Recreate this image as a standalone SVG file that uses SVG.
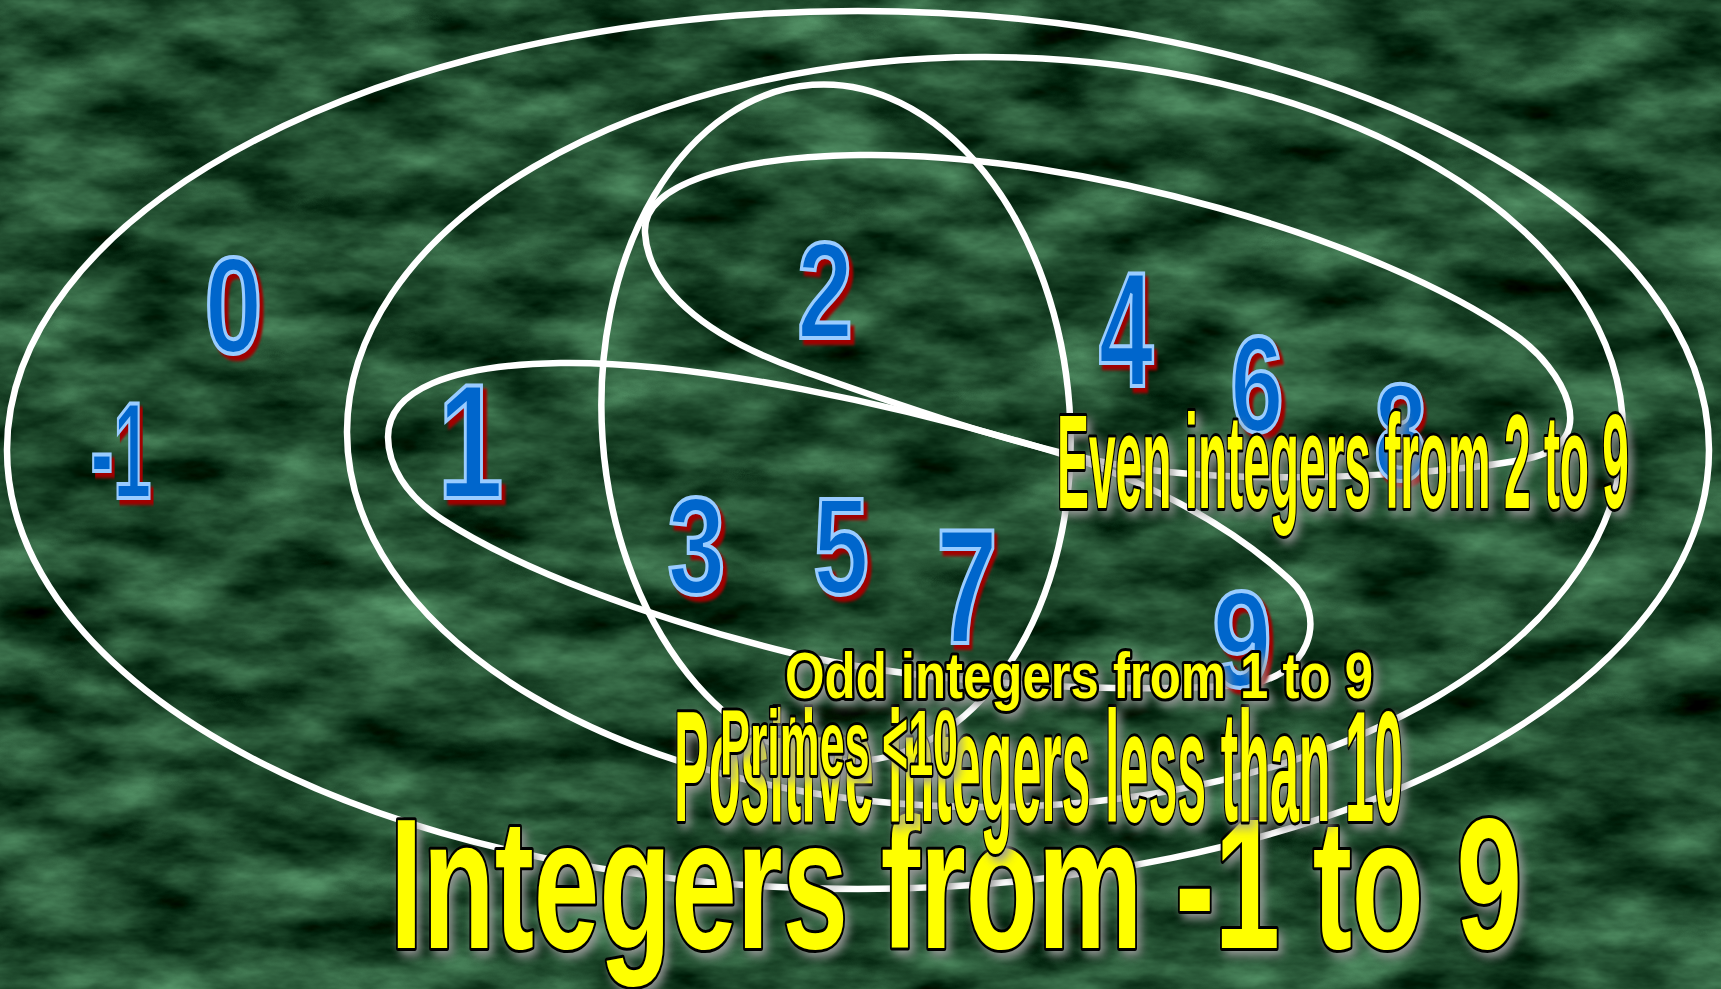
<svg xmlns="http://www.w3.org/2000/svg" width="1721" height="989" viewBox="0 0 1721 989">
<defs>
<filter id="tex" filterUnits="userSpaceOnUse" x="0" y="0" width="1721" height="989" color-interpolation-filters="sRGB">
<feTurbulence type="fractalNoise" baseFrequency="0.009 0.022" numOctaves="5" seed="7" result="n"/>
<feColorMatrix in="n" type="matrix" values="0.55 0 0 0 -0.15  0.75 0 0 0 -0.08  0.6 0 0 0 -0.12  0 0 0 0 1"/>
</filter>
<filter id="redsh" x="-20%" y="-20%" width="150%" height="150%" color-interpolation-filters="sRGB">
<feGaussianBlur in="SourceAlpha" stdDeviation="1.5"/>
<feOffset dx="5" dy="5" result="o"/>
<feFlood flood-color="#a00000"/>
<feComposite in2="o" operator="in" result="s"/>
<feMerge><feMergeNode in="s"/><feMergeNode in="SourceGraphic"/></feMerge>
</filter>
<filter id="glow" x="-10%" y="-30%" width="120%" height="160%" color-interpolation-filters="sRGB">
<feGaussianBlur in="SourceAlpha" stdDeviation="5"/>
<feOffset dx="4" dy="5" result="o"/>
<feFlood flood-color="#9a9a9a" flood-opacity="0.95"/>
<feComposite in2="o" operator="in" result="s"/>
<feMerge><feMergeNode in="s"/><feMergeNode in="SourceGraphic"/></feMerge>
</filter>
<style>
.set{fill:none;stroke:#ffffff;stroke-width:6.5}
.num{font-family:"Liberation Sans",Arial,sans-serif;font-weight:bold;fill:#0066cc;stroke:#99ccff;stroke-width:4;text-anchor:middle;filter:url(#redsh)}
.sm{font-size:137px}
.lg{font-size:164px}
.lbl{font-family:"Liberation Sans",Arial,sans-serif;font-weight:bold;fill:#ffff00;stroke:#000000;stroke-width:6;stroke-linejoin:round;paint-order:stroke fill;filter:url(#glow)}
</style>
</defs>
<rect id="background" x="0" y="0" width="1721" height="989" fill="#1f4d2d" filter="url(#tex)"/>
<g id="connectors">
<ellipse id="set-integers" class="set" cx="858" cy="450" rx="851" ry="439"/>
<ellipse id="set-positive" class="set" cx="985" cy="432" rx="638" ry="375"/>
<ellipse id="set-primes" class="set" cx="836" cy="423" rx="234" ry="339" transform="rotate(-4 836 423)"/>
<path id="set-even" class="set" d="M645,233 C642,185 730,157 860,155 C1080,152 1380,240 1515,335 C1565,370 1600,440 1534,457 C1480,471 1300,485 1168,472 C1050,460 900,405 800,370 C700,335 648,285 645,233 Z"/>
<path id="set-odd" class="set" d="M388,437 C388,390 450,365 560,363 C700,361 900,405 1055,452 C1150,482 1230,525 1290,580 C1330,617 1310,680 1240,685 C1100,695 900,680 787,652 C650,618 520,570 443,520 C405,495 388,465 388,437 Z"/>
</g>
<g id="numbers">
<g id="n-minus1"><text class="num sm" transform="translate(121,498) scale(0.5,1)">-1</text></g>
<g id="n0"><text class="num sm" transform="translate(233.5,353) scale(0.76,1)">0</text></g>
<g id="n1"><text class="num lg" transform="translate(470.5,498) scale(0.72,1)">1</text></g>
<g id="n2"><text class="num sm" transform="translate(825,338) scale(0.73,1)">2</text></g>
<g id="n3"><text class="num sm" transform="translate(696.5,593) scale(0.76,1)">3</text></g>
<g id="n4"><text class="num lg" transform="translate(1126,386) scale(0.6,1)">4</text></g>
<g id="n5"><text class="num sm" transform="translate(841,594) scale(0.73,1)">5</text></g>
<g id="n6"><text class="num sm" transform="translate(1257,432) scale(0.7,1)">6</text></g>
<g id="n7"><text class="num lg" transform="translate(967,643) scale(0.675,1)">7</text></g>
<g id="n8"><text class="num sm" transform="translate(1400.5,480) scale(0.69,1)">8</text></g>
<g id="n9"><text class="num sm" transform="translate(1242,687) scale(0.78,1)">9</text></g>
</g>
<g id="labels">
<g id="label-integers"><text class="lbl" x="390" y="948" font-size="186" textLength="1132" lengthAdjust="spacingAndGlyphs">Integers from -1 to 9</text></g>
<g id="label-positive"><text class="lbl" x="674" y="821" font-size="157" textLength="729" lengthAdjust="spacingAndGlyphs">Positive integers less than 10</text></g>
<g id="label-primes"><text class="lbl" x="720" y="775" font-size="92" textLength="238" lengthAdjust="spacingAndGlyphs">Primes &lt;10</text></g>
<g id="label-odd"><text class="lbl" x="785" y="698" font-size="64" textLength="588" lengthAdjust="spacingAndGlyphs">Odd integers from 1 to 9</text></g>
<g id="label-even"><text class="lbl" x="1057" y="508" font-size="133" textLength="572" lengthAdjust="spacingAndGlyphs">Even integers from 2 to 9</text></g>
</g>
</svg>
